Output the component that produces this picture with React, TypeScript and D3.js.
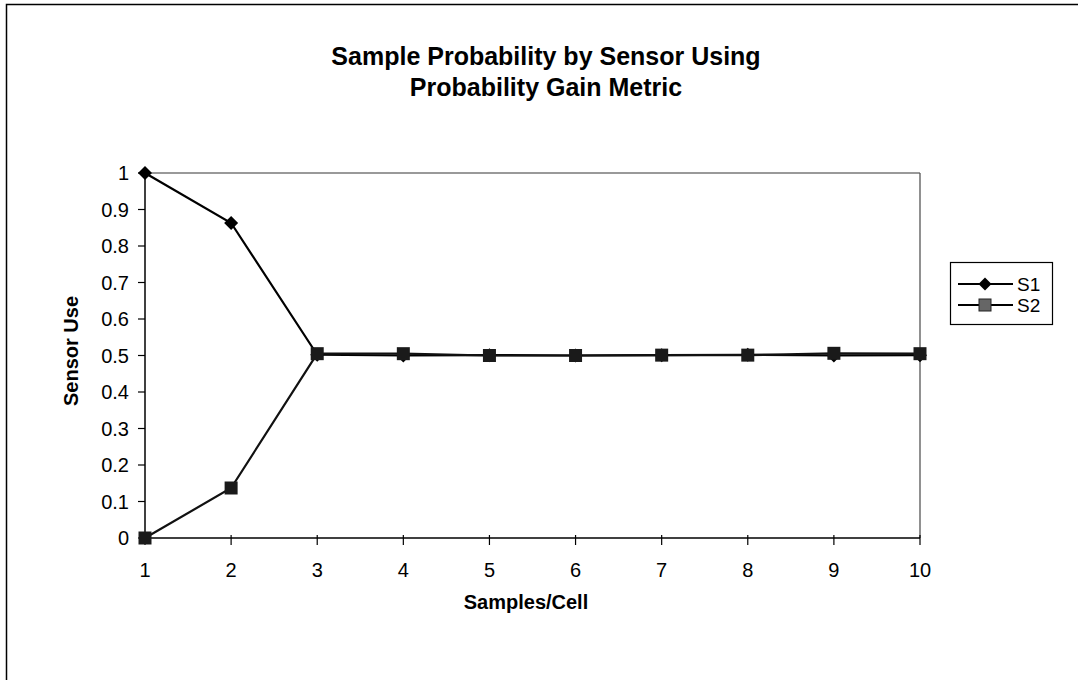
import React from "react";
import * as d3 from "d3";

const samples = [1, 2, 3, 4, 5, 6, 7, 8, 9, 10];
const s1Values = [1, 0.863, 0.502, 0.5, 0.501, 0.5, 0.501, 0.502, 0.5, 0.501];
const s2Values = [0, 0.137, 0.505, 0.505, 0.5, 0.5, 0.501, 0.501, 0.506, 0.505];
const yTicks = [0, 0.1, 0.2, 0.3, 0.4, 0.5, 0.6, 0.7, 0.8, 0.9, 1];
const seriesNames = ["S1", "S2"];

const W = 1078;
const H = 680;
const FONT = "Arial, 'Liberation Sans', Helvetica, sans-serif";

export default function App() {
  const left = 145, right = 920, top = 173, bottom = 538;
  const x = d3.scalePoint<number>().domain(samples).range([left, right]);
  const y = d3.scaleLinear().domain([0, 1]).range([bottom, top]);
  const line = d3.line<number>().x((_, i) => x(samples[i])!).y((v) => y(v));

  const diamond = (cx: number, cy: number, r = 7) =>
    `M${cx},${cy - r}L${cx + r},${cy}L${cx},${cy + r}L${cx - r},${cy}Z`;

  return (
    <svg width={W} height={H} style={{ position: "absolute", left: 0, top: 0, background: "#fff" }}>
      <rect x={0} y={0} width={W} height={H} fill="#fff" />
      <rect x={6.5} y={4.5} width={W + 10} height={H + 10} fill="none" stroke="#000" strokeWidth={1.5} />
      <text x={546} y={65} textAnchor="middle" fontFamily={FONT} fontWeight="bold" fontSize={25}>
        Sample Probability by Sensor Using
      </text>
      <text x={546} y={96} textAnchor="middle" fontFamily={FONT} fontWeight="bold" fontSize={25}>
        Probability Gain Metric
      </text>

      {/* plot border top/right */}
      <line x1={left} y1={top} x2={right} y2={top} stroke="#777" strokeWidth={1.3} />
      <line x1={right} y1={top} x2={right} y2={bottom} stroke="#555" strokeWidth={1.3} />
      {/* axes */}
      <line x1={left} y1={top} x2={left} y2={bottom} stroke="#000" strokeWidth={1.5} />
      <line x1={left} y1={bottom} x2={right} y2={bottom} stroke="#000" strokeWidth={1.5} />

      {yTicks.map((t) => (
        <g key={t}>
          <line x1={left - 7} x2={left} y1={y(t)} y2={y(t)} stroke="#000" strokeWidth={1.2} />
          <text x={left - 16} y={y(t) + 7} textAnchor="end" fontFamily={FONT} fontSize={20}>
            {String(t)}
          </text>
        </g>
      ))}
      {samples.map((s) => (
        <g key={s}>
          <line x1={x(s)!} x2={x(s)!} y1={bottom - 3} y2={bottom + 7} stroke="#000" strokeWidth={1.2} />
          <text x={x(s)!} y={bottom + 39} textAnchor="middle" fontFamily={FONT} fontSize={20}>
            {s}
          </text>
        </g>
      ))}

      <text x={526} y={609} textAnchor="middle" fontFamily={FONT} fontWeight="bold" fontSize={20}>
        Samples/Cell
      </text>
      <text
        transform={`translate(78,${351}) rotate(-90)`}
        textAnchor="middle"
        fontFamily={FONT}
        fontWeight="bold"
        fontSize={20}
      >
        Sensor Use
      </text>

      <path d={line(s1Values) || ""} fill="none" stroke="#000" strokeWidth={2.2} />
      <path d={line(s2Values) || ""} fill="none" stroke="#111" strokeWidth={2.2} />
      {s1Values.map((v, i) => (
        <path key={"d" + i} d={diamond(x(samples[i])!, y(v))} fill="#000" />
      ))}
      {s2Values.map((v, i) => (
        <rect key={"s" + i} x={x(samples[i])! - 6.5} y={y(v) - 6.5} width={13} height={13} fill="#1a1a1a" />
      ))}

      {/* legend */}
      <rect x={950.5} y={262.5} width={102} height={62} fill="#fff" stroke="#000" strokeWidth={1.2} />
      {seriesNames.map((n, i) => {
        const ly = 284 + i * 21;
        return (
          <g key={n}>
            <line x1={958} x2={1013} y1={ly} y2={ly} stroke="#000" strokeWidth={2} />
            {i === 0 ? (
              <path d={diamond(985, ly, 6.5)} fill="#000" />
            ) : (
              <rect x={979} y={ly - 6} width={12} height={12} fill="#666" stroke="#222" strokeWidth={1} />
            )}
            <text x={1017} y={ly + 7} fontFamily={FONT} fontSize={19}>
              {n}
            </text>
          </g>
        );
      })}
    </svg>
  );
}
